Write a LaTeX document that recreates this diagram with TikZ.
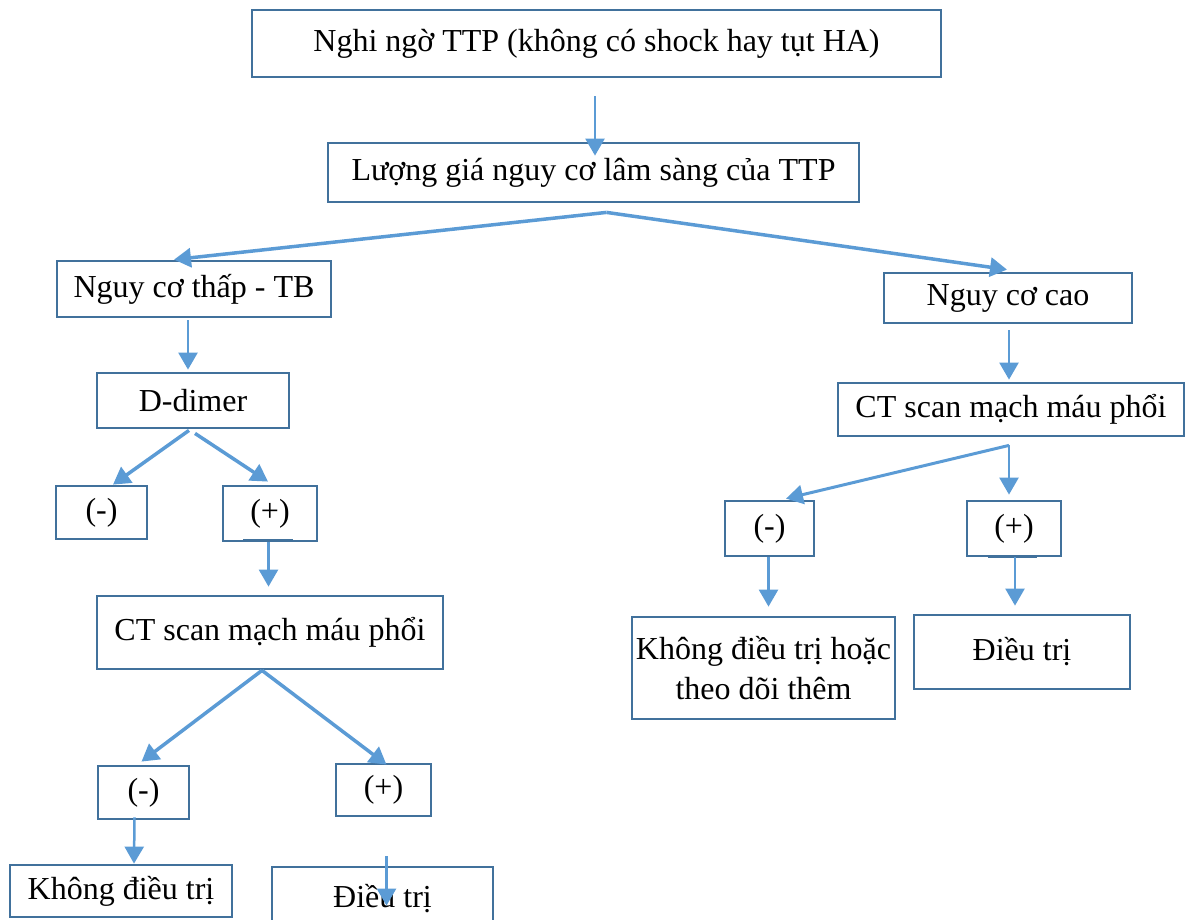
\documentclass[tikz,border=0pt]{standalone}
\usepackage{fontspec}
\setmainfont{Liberation Serif}
\usepackage{tikz}
\usetikzlibrary{arrows.meta}
\definecolor{boxblue}{HTML}{41719C}
\definecolor{arrblue}{HTML}{5B9BD5}

\begin{document}
\begin{tikzpicture}[x=1pt, y=-1pt,
        box/.style={draw=boxblue, line width=2.8pt, rectangle, inner sep=0pt, align=center,
            font=\fontsize{32}{40}\selectfont},
        arr/.style={draw=arrblue, line width=2.5pt, -{Triangle[length=17pt, width=19pt]}},
        thick arr/.style={arr, line width=3.5pt},
        stub/.style={draw=boxblue, line width=2.5pt}]
            \useasboundingbox (0, 0) rectangle (1186, 919);
            \clip (0, 0) rectangle (1186, 919);
            \node[box, minimum width=689pt, minimum height=67pt] (suspect) at (596.5, 43.5) {Nghi ngờ TTP (không có shock hay tụt HA)};
            \node[box, minimum width=531pt, minimum height=59pt] (assess) at (593.5, 172.5) {Lượng giá nguy cơ lâm sàng của TTP};
            \node[box, minimum width=274pt, minimum height=56pt] (low) at (194, 289) {Nguy cơ thấp - TB};
            \node[box, minimum width=192pt, minimum height=55pt] (dd) at (193, 400.5) {D-dimer};
            \node[box, minimum width=91pt, minimum height=53pt] (ddneg) at (101.5, 512.5) {(-)};
            \node[box, minimum width=94pt, minimum height=55pt] (ddpos) at (270, 513.5) {(+)};
            \node[box, minimum width=346pt, minimum height=73pt] (ctl) at (270, 632.5) {CT scan mạch máu phổi};
            \node[box, minimum width=91pt, minimum height=53pt] (ctlneg) at (143.5, 792.5) {(-)};
            \node[box, minimum width=95pt, minimum height=52pt] (ctlpos) at (383.5, 790) {(+)};
            \node[box, minimum width=222pt, minimum height=52pt] (notreat) at (121, 891) {Không điều trị};
            \node[box, minimum width=221pt, minimum height=63pt] (treat) at (382.5, 898.5) {Điều trị};
            \node[box, minimum width=248pt, minimum height=50pt] (high) at (1008, 298) {Nguy cơ cao};
            \node[box, minimum width=346pt, minimum height=53pt] (ctr) at (1011, 409.5) {CT scan mạch máu phổi};
            \node[box, minimum width=89pt, minimum height=55pt] (ctrneg) at (769.5, 528.5) {(-)};
            \node[box, minimum width=94pt, minimum height=55pt] (ctrpos) at (1014, 528.5) {(+)};
            \node[box, minimum width=263pt, minimum height=102pt] (maybe) at (763.5, 668) {Không điều trị hoặc\\theo dõi thêm};
            \node[box, minimum width=216pt, minimum height=74pt] (ctrtreat) at (1022, 652) {Điều trị};
            \coordinate (split1) at ([shift={(13, 9)}]assess.south);
            \coordinate (split2) at ([xshift=-8pt]ctl.south);
            \coordinate (split3) at ([shift={(-2, 8)}]ctr.south);
            \draw[arr] ([xshift=-1.5pt, yshift=-18pt]suspect.south) to ([xshift=1.5pt, yshift=-14pt]assess.north);
            \draw[thick arr] (split1) to ([xshift=-20pt]low.north);
            \draw[thick arr] (split1) to ([xshift=-1pt, yshift=2pt]high.north);
            \draw[arr] ([xshift=-6pt, yshift=-2pt]low.south) to ([xshift=-5pt, yshift=2pt]dd.north);
            \draw[thick arr] ([xshift=-4pt, yshift=-1pt]dd.south) to ([xshift=11.5pt]ddneg.north);
            \draw[thick arr] ([xshift=2pt, yshift=-4pt]dd.south) to ([xshift=-2pt, yshift=3pt]ddpos.north);
            \draw[stub] ([shift={(-27, -2.5)}]ddpos.south) to ([shift={(23, -2.5)}]ddpos.south);
            \draw[arr] ([xshift=-1.5pt]ddpos.south) to ([xshift=-1.5pt, yshift=8pt]ctl.north);
            \draw[thick arr] (split2) to ([xshift=-2pt, yshift=3pt]ctlneg.north);
            \draw[thick arr] (split2) to ([xshift=3pt, yshift=-2pt]ctlpos.north);
            \draw[arr] ([xshift=-9pt, yshift=3pt]ctlneg.south) to ([xshift=13pt]notreat.north);
            \draw[arr] ([xshift=3pt, yshift=-39pt]ctlpos.south) to ([xshift=4pt, yshift=-40pt]treat.north);
            \draw[arr] ([xshift=1pt, yshift=-6pt]high.south) to ([xshift=-2pt, yshift=2pt]ctr.north);
            \draw[arr, line width=3pt] (split3) to ([xshift=16.5pt, yshift=1pt]ctrneg.north);
            \draw[arr] (split3) to ([xshift=-5pt, yshift=5pt]ctrpos.north);
            \draw[stub] ([shift={(-26, -1)}]ctrpos.south) to ([shift={(23, -1)}]ctrpos.south);
            \draw[arr] ([xshift=-1pt]ctrneg.south) to ([xshift=5pt, yshift=9pt]maybe.north);
            \draw[arr] ([xshift=1pt]ctrpos.south) to ([xshift=-7pt, yshift=8pt]ctrtreat.north);
        \end{tikzpicture}
\end{document}
